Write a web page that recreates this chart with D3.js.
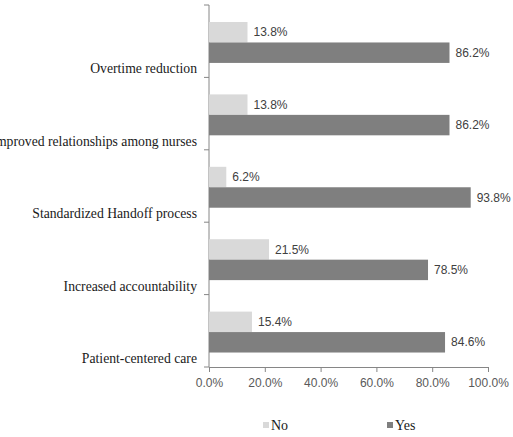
<!DOCTYPE html>
<html>
<head>
<meta charset="utf-8">
<script src="https://cdn.jsdelivr.net/npm/d3@7"></script>
<style>
  body { margin: 0; background: #fff; }
  svg { display: block; }
</style>
</head>
<body>
<svg id="chart"></svg>
<script>
// data
const categories = ['Overtime reduction', 'Improved relationships among nurses', 'Standardized Handoff process', 'Increased accountability', 'Patient-centered care'];
const series = ['No', 'Yes'];
const noValues = [13.8, 13.8, 6.2, 21.5, 15.4];
const yesValues = [86.2, 86.2, 93.8, 78.5, 84.6];
const xTicks = [0, 20, 40, 60, 80, 100];
const colors = ['#d9d9d9', '#7f7f7f'];

const svgWidth = 513, svgHeight = 437;
const margin = {top: 5, right: 25, bottom: 70, left: 209};
const width = 488 - margin.left;
const height = 367 - margin.top;

const data = categories.map((c, i) => ({category: c, values: [noValues[i], yesValues[i]]}));

const svg = d3.select('#chart')
  .attr('width', svgWidth)
  .attr('height', svgHeight);

const chart = svg.append('g')
  .attr('transform', `translate(${margin.left}, ${margin.top})`);

/********* Scales *********/
const xScale = d3.scaleLinear().domain([0, 100]).range([0, width]);

const yScale = d3.scaleBand()
  .domain(categories)
  .range([0, height])
  .padding(0);

const bw = yScale.bandwidth();
const ySub = d3.scaleBand()
  .domain(series)
  .range([bw * 0.235, bw * 0.8])
  .padding(0);

/********* Axes *********/
const axisColor = '#868686';

const xAxis = chart.append('g')
  .attr('transform', `translate(0, ${height})`)
  .call(d3.axisBottom(xScale).tickValues(xTicks).tickSize(5).tickPadding(6)
    .tickFormat(d => d.toFixed(1) + '%'));
xAxis.select('.domain').attr('stroke', axisColor);
xAxis.selectAll('.tick line').attr('stroke', axisColor);
xAxis.selectAll('.tick text')
  .attr('fill', '#595959')
  .style('font-family', '"Liberation Sans", Arial, sans-serif')
  .style('font-size', '12px');

// category axis: ticks at band boundaries
const yAxis = chart.append('g');
yAxis.append('line')
  .attr('x1', 0).attr('x2', 0)
  .attr('y1', 0).attr('y2', height)
  .attr('stroke', axisColor);
const boundaries = categories.map(c => yScale(c)).concat([height]);
yAxis.selectAll('.btick')
  .data(boundaries)
  .enter()
  .append('line')
  .attr('x1', -5).attr('x2', 0)
  .attr('y1', d => d).attr('y2', d => d)
  .attr('stroke', axisColor);

yAxis.selectAll('.cat')
  .data(categories)
  .enter()
  .append('text')
  .attr('x', -12)
  .attr('y', d => yScale(d) + bw - 4)
  .attr('text-anchor', 'end')
  .attr('fill', '#1a1a1a')
  .style('font-family', '"Liberation Serif", "Times New Roman", serif')
  .style('font-size', '13.7px')
  .text(d => d);

/********* Bars *********/
const groups = chart.selectAll('.grp')
  .data(data)
  .enter()
  .append('g')
  .attr('transform', d => `translate(0, ${yScale(d.category)})`);

groups.selectAll('rect')
  .data(d => d.values.map((v, i) => ({key: series[i], value: v, i})))
  .enter()
  .append('rect')
  .attr('x', 0)
  .attr('y', d => ySub(d.key))
  .attr('width', d => xScale(d.value))
  .attr('height', ySub.bandwidth())
  .style('fill', d => colors[d.i]);

groups.selectAll('.value')
  .data(d => d.values.map((v, i) => ({key: series[i], value: v, i})))
  .enter()
  .append('text')
  .attr('class', 'value')
  .attr('x', d => xScale(d.value) + 6)
  .attr('y', d => ySub(d.key) + ySub.bandwidth() / 2)
  .attr('dy', '0.35em')
  .attr('fill', '#404040')
  .style('font-family', '"Liberation Sans", Arial, sans-serif')
  .style('font-size', '12px')
  .text(d => d.value.toFixed(1) + '%');

/********* Legend *********/
const legendX = [263, 387];
const legend = svg.selectAll('.legend')
  .data(series)
  .enter()
  .append('g')
  .attr('transform', (d, i) => `translate(${legendX[i]}, 425)`);

legend.append('rect')
  .attr('x', 0).attr('y', -3)
  .attr('width', 6).attr('height', 6)
  .style('fill', (d, i) => colors[i]);

legend.append('text')
  .attr('x', 8)
  .attr('y', 0)
  .attr('dy', '0.35em')
  .attr('fill', '#1a1a1a')
  .style('font-family', '"Liberation Serif", "Times New Roman", serif')
  .style('font-size', '14px')
  .text(d => d);
</script>
</body>
</html>
